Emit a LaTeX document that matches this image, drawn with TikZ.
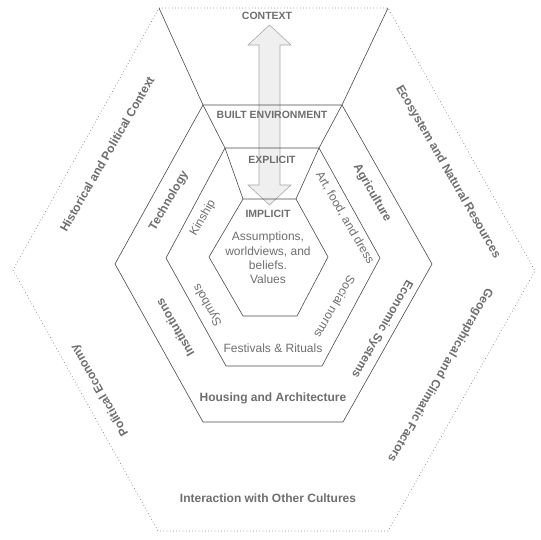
\documentclass[tikz,border=0pt]{standalone}
\usepackage{fontspec}
\setmainfont{Liberation Sans}
\definecolor{lblgray}{HTML}{6E6E6E}
\definecolor{linegray}{HTML}{4A4A4A}
\definecolor{dotgray}{HTML}{8A8A8A}
\definecolor{arrowfill}{HTML}{EFEFEF}
\definecolor{arrowline}{HTML}{A8A8A8}
\tikzset{
  ring/.style={draw=linegray, line width=0.6pt, line join=miter},
  outerring/.style={draw=dotgray, line width=0.7pt, dash pattern=on 0.8pt off 2.4pt},
  boldlbl/.style={text=lblgray, font=\fontsize{12}{14}\selectfont\bfseries, inner sep=0pt},
  caplbl/.style={text=lblgray, font=\fontsize{10.5}{12}\selectfont\bfseries, inner sep=0pt},
  plainlbl/.style={text=lblgray, font=\fontsize{12}{14.3}\selectfont, inner sep=0pt, align=center}
}
\begin{document}
\begin{tikzpicture}[x=1pt,y=1pt]
    \useasboundingbox (0,0) rectangle (540,540);

    % corners of the four hexagons, counter-clockwise from the top left
    \foreach \n/\p in {o1/{159,532}, o2/{388,532}, o3/{535,269}, o4/{388,9}, o5/{158,9}, o6/{13,270},
                       m1/{203,435}, m2/{342,435}, m3/{432,276}, m4/{343,118}, m5/{203,118}, m6/{115,276},
                       n1/{225,392}, n2/{319,392}, n3/{380,282}, n4/{322,174}, n5/{226,174}, n6/{166,282},
                       c1/{243,341}, c2/{296,341}, c3/{328,283}, c4/{297,224}, c5/{243,224}, c6/{209,283}}
      \coordinate (\n) at (\p);

    % double block arrow, behind the lines
    \draw[draw=arrowline, fill=arrowfill, line width=0.6pt]
      (269.5,515) -- (291,495) -- (280,495) -- (280,355) -- (291,355) -- (269.5,335)
      -- (248,355) -- (259,355) -- (259,495) -- (248,495) -- cycle;

    \draw[outerring] (o1) -- (o2) -- (o3) -- (o4) -- (o5) -- (o6) -- cycle;
    \draw[ring] (m1) -- (m2) -- (m3) -- (m4) -- (m5) -- (m6) -- cycle;
    \draw[ring] (n1) -- (n2) -- (n3) -- (n4) -- (n5) -- (n6) -- cycle;
    \draw[ring] (c1) -- (c2) -- (c3) -- (c4) -- (c5) -- (c6) -- cycle;

    % funnel lines from ring to ring
    \foreach \a/\b in {o1/m1, o2/m2, m1/n1, m2/n2, n1/c1, n2/c2}
      \draw[ring] (\a) -- (\b);

    % outer ring
    \node[caplbl] (context) at (267,524) {CONTEXT};
    \node[boldlbl, rotate=60] (histctx) at (107,386) {Historical and Political Context};
    \node[boldlbl, rotate=-60] (ecosys) at (448,368) {Ecosystem and Natural Resources};
    \node[boldlbl, rotate=120] (poleco) at (100,150) {Political Economy};
    \node[boldlbl, rotate=-120] (geoclim) at (440,165) {Geographical and Climatic Factors};
    \node[boldlbl] (interact) at (268,42) {Interaction with Other Cultures};

    % middle ring
    \node[caplbl] (builtenv) at (272,425) {BUILT ENVIRONMENT};
    \node[boldlbl, rotate=60] (tech) at (169,339) {Technology};
    \node[boldlbl, rotate=-60] (agri) at (372,347) {Agriculture};
    \node[boldlbl, rotate=120] (inst) at (175,212) {Institutions};
    \node[boldlbl, rotate=-120] (econ) at (382,211) {Economic Systems};
    \node[boldlbl] (housing) at (273,142) {Housing and Architecture};

    % inner ring
    \node[caplbl] (explicit) at (272,380) {EXPLICIT};
    \node[plainlbl, rotate=60] (kinship) at (203,322) {Kinship};
    \node[plainlbl, rotate=-60] (artfood) at (345,322) {Art, food, and dress};
    \node[plainlbl, rotate=120] (symbols) at (208,235) {Symbols};
    \node[plainlbl, rotate=-120] (social) at (335,233) {Social norms};
    \node[plainlbl] (festivals) at (273,192) {Festivals \& Rituals};

    % core
    \node[caplbl] (implicit) at (268,326) {IMPLICIT};
    \node[plainlbl] (core) at (268,282) {Assumptions,\\worldviews, and\\beliefs.\\Values};
\end{tikzpicture}
\end{document}
